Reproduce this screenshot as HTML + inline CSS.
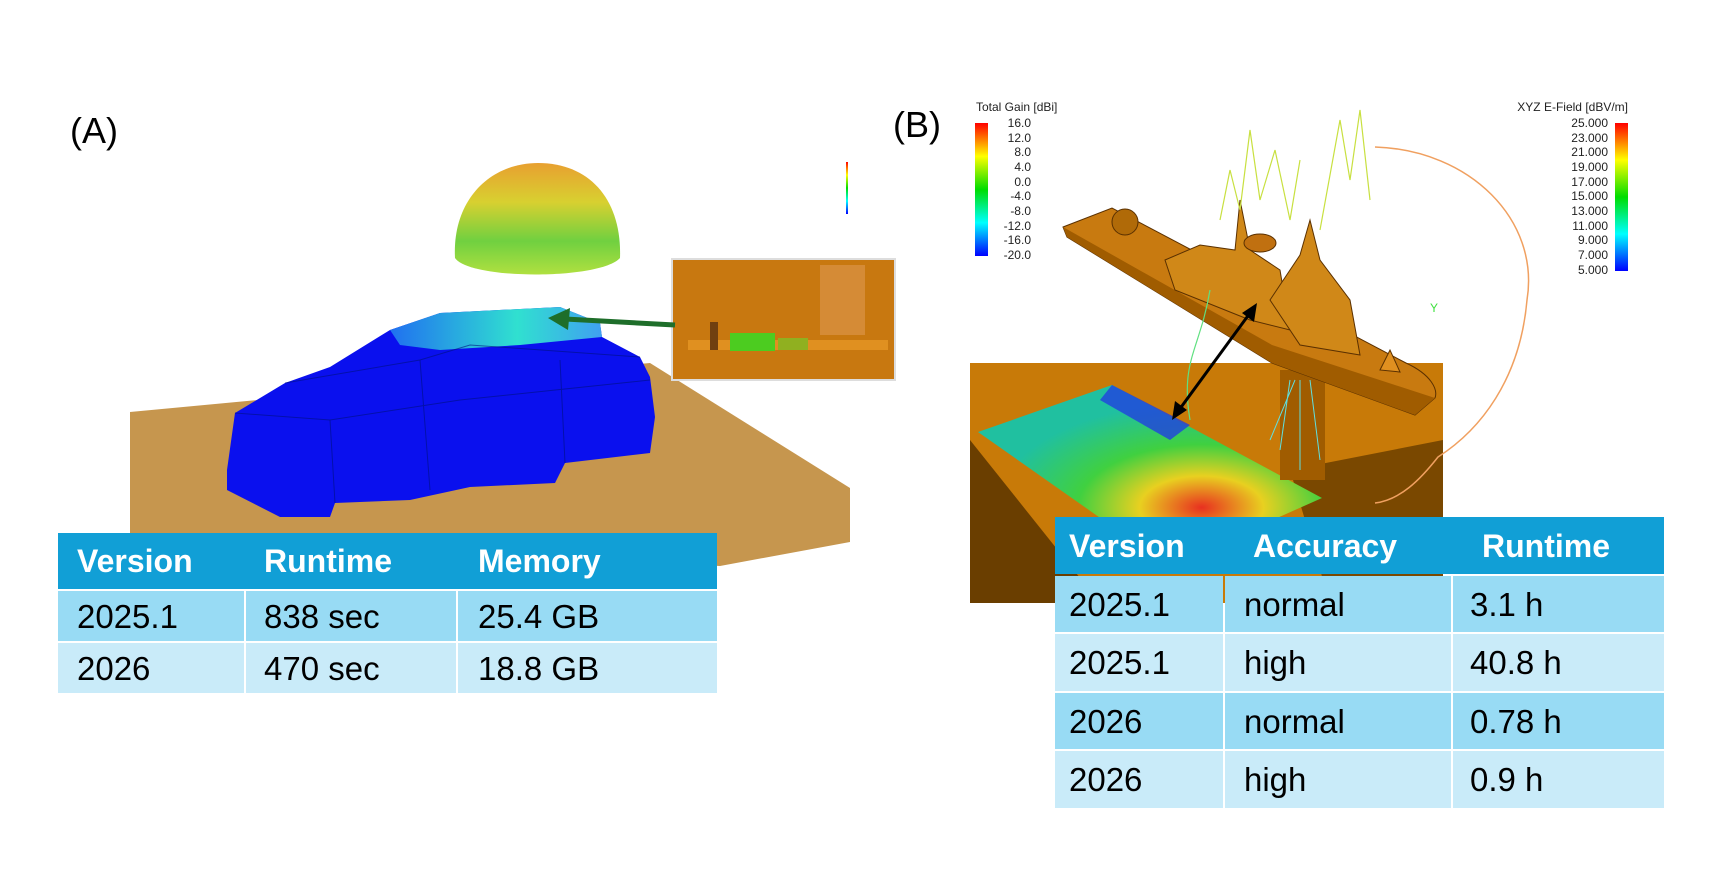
<!DOCTYPE html>
<html><head><meta charset="utf-8"><style>
html,body{margin:0;padding:0;background:#fff;}
#c{position:relative;width:1728px;height:881px;overflow:hidden;font-family:"Liberation Sans",sans-serif;}
.cell{position:absolute;box-sizing:border-box;font-size:33px;line-height:1;display:flex;align-items:center;color:#000;}
.h{color:#fff;font-weight:bold;font-size:32px;}
</style></head><body><div id="c">
<svg width="1728" height="881" viewBox="0 0 1728 881" style="position:absolute;left:0;top:0">
<defs>
<linearGradient id="dome" x1="0" y1="0" x2="0" y2="1"><stop offset="0" stop-color="#e8a030"/><stop offset="0.35" stop-color="#d8d030"/><stop offset="0.7" stop-color="#70d040"/><stop offset="1" stop-color="#b0e040"/></linearGradient>
<linearGradient id="cb" x1="0" y1="0" x2="0" y2="1"><stop offset="0" stop-color="#f00"/><stop offset="0.25" stop-color="#ff0"/><stop offset="0.5" stop-color="#0d0"/><stop offset="0.75" stop-color="#0ff"/><stop offset="1" stop-color="#00f"/></linearGradient>
<radialGradient id="heat" cx="0.65" cy="0.7" r="0.6"><stop offset="0" stop-color="#e83020"/><stop offset="0.3" stop-color="#e8d020"/><stop offset="0.6" stop-color="#40d040"/><stop offset="1" stop-color="#20c0a0"/></radialGradient>
<linearGradient id="roof" x1="0" y1="0" x2="1" y2="0"><stop offset="0" stop-color="#2070f0"/><stop offset="0.6" stop-color="#30e0d0"/><stop offset="1" stop-color="#40a0f0"/></linearGradient>
</defs>
<polygon points="130,412 650,363 850,488 850,542 720,566 130,537" fill="#c6964e"/>
<polygon points="227,470 235,413 285,383 330,367 390,330 440,313 560,307 600,323 602,337 640,357 650,377 655,417 650,453 565,463 555,483 470,487 410,500 335,503 330,517 280,517 227,490" fill="#0a10ee"/>
<polygon points="390,330 440,313 560,307 600,323 602,337 520,345 440,350 400,345" fill="url(#roof)"/>
<g stroke="#001080" stroke-width="1" fill="none" opacity="0.6">
<path d="M285,383 L420,360 L470,345 L640,357"/><path d="M235,413 L330,420 L460,400 L650,380"/><path d="M420,360 L430,490"/><path d="M330,420 L335,503"/><path d="M560,360 L565,463"/>
</g>
<path d="M455,258 C452,200 490,163 538,163 C590,163 622,200 620,258 C600,280 470,280 455,258 Z" fill="url(#dome)"/>
<rect x="846" y="162" width="2" height="52" fill="url(#cb)"/>
<rect x="672" y="259" width="223" height="121" fill="#c87810" stroke="#ddd" stroke-width="2"/>
<rect x="820" y="265" width="45" height="70" fill="#d89040" opacity="0.8"/>
<rect x="688" y="340" width="200" height="10" fill="#e09020"/>
<rect x="730" y="333" width="45" height="18" fill="#4ccc20"/>
<rect x="778" y="338" width="30" height="12" fill="#90b020"/>
<rect x="710" y="322" width="8" height="28" fill="#704010"/>
<line x1="675" y1="325" x2="565" y2="319" stroke="#1e6e2a" stroke-width="5"/>
<polygon points="548,318 570,308 568,330" fill="#1e6e2a"/>
<rect x="970" y="363" width="473" height="240" fill="#c87a08"/>
<polygon points="970,440 1100,603 970,603" fill="#6a3e00"/>
<polygon points="1290,470 1443,440 1443,603 1330,603" fill="#7a4800"/>
<polygon points="978,432 1112,385 1322,498 1250,530 1160,560" fill="url(#heat)"/>
<polygon points="1112,385 1190,425 1170,440 1100,400" fill="#2040e0" opacity="0.8"/>
<rect x="1280" y="370" width="45" height="110" fill="#a05c00"/>
<path d="M1063,227 L1112,208 L1406,363 C1432,375 1438,390 1435,398 L1415,415 L1272,363 L1067,237 Z" fill="#c87a10" stroke="#5a3000" stroke-width="1"/>
<polygon points="1067,237 1063,227 1272,345 1435,398 1415,415 1272,363" fill="#a05c00"/>
<circle cx="1125" cy="222" r="13" fill="#b06a08" stroke="#5a3000"/>
<polygon points="1165,260 1200,245 1235,250 1240,200 1250,250 1280,270 1290,330 1250,320 1175,290" fill="#d08818" stroke="#5a3000"/>
<polygon points="1270,300 1300,255 1310,220 1320,260 1350,300 1360,355 1300,345" fill="#d08818" stroke="#5a3000"/>
<polygon points="1380,370 1390,350 1400,372" fill="#e09020" stroke="#5a3000"/>
<ellipse cx="1260" cy="243" rx="16" ry="9" fill="#c07010" stroke="#5a3000"/>
<path d="M1375,147 C1470,150 1540,220 1527,300 C1520,380 1480,430 1438,457 C1420,480 1400,500 1375,503" fill="none" stroke="#f0a060" stroke-width="1.5"/>
<g stroke="#c8e040" stroke-width="1.2" fill="none">
<path d="M1220,220 L1230,170 L1240,210 L1250,130 L1260,200 L1275,150 L1290,220 L1300,160"/>
<path d="M1320,230 L1340,120 L1350,180 L1360,110 L1370,200"/>
</g>
<g stroke="#60e0e0" stroke-width="1" fill="none"><path d="M1290,380 L1280,450 M1300,380 L1300,470 M1310,380 L1320,460 M1295,380 L1270,440"/></g>
<path d="M1210,290 C1200,350 1180,360 1190,420" stroke="#60e080" stroke-width="1.2" fill="none"/>
<line x1="1250" y1="313" x2="1179" y2="410" stroke="#000" stroke-width="3"/>
<polygon points="1257,303 1254,322 1242,313" fill="#000"/>
<polygon points="1172,420 1175,401 1187,410" fill="#000"/>
<rect x="975" y="123" width="13" height="133" fill="url(#cb)"/>
<rect x="1615" y="123" width="13" height="148" fill="url(#cb)"/>
<g font-family="Liberation Sans,sans-serif" font-size="12" fill="#222">
<text x="976" y="111">Total Gain [dBi]</text>
<text x="1628" y="111" text-anchor="end">XYZ E-Field [dBV/m]</text>
<g text-anchor="end">
<text x="1031" y="127">16.0</text><text x="1031" y="142">12.0</text><text x="1031" y="156">8.0</text><text x="1031" y="171">4.0</text><text x="1031" y="186">0.0</text><text x="1031" y="200">-4.0</text><text x="1031" y="215">-8.0</text><text x="1031" y="230">-12.0</text><text x="1031" y="244">-16.0</text><text x="1031" y="259">-20.0</text>
<text x="1608" y="127">25.000</text><text x="1608" y="142">23.000</text><text x="1608" y="156">21.000</text><text x="1608" y="171">19.000</text><text x="1608" y="186">17.000</text><text x="1608" y="200">15.000</text><text x="1608" y="215">13.000</text><text x="1608" y="230">11.000</text><text x="1608" y="244">9.000</text><text x="1608" y="259">7.000</text><text x="1608" y="274">5.000</text>
</g>
<text x="1430" y="312" fill="#40e040">Y</text>
</g>
<text x="70" y="143" font-family="Liberation Sans,sans-serif" font-size="36" fill="#000">(A)</text>
<text x="893" y="137" font-family="Liberation Sans,sans-serif" font-size="36" fill="#000">(B)</text>
</svg>

<div style="position:absolute;left:58px;top:533px;width:659px;height:56px;background:#119fd6"></div>
<div style="position:absolute;left:58px;top:591px;width:186px;height:50px;background:#98dbf4"></div>
<div style="position:absolute;left:246px;top:591px;width:210px;height:50px;background:#98dbf4"></div>
<div style="position:absolute;left:458px;top:591px;width:259px;height:50px;background:#98dbf4"></div>
<div style="position:absolute;left:58px;top:643px;width:186px;height:50px;background:#c9ebf9"></div>
<div style="position:absolute;left:246px;top:643px;width:210px;height:50px;background:#c9ebf9"></div>
<div style="position:absolute;left:458px;top:643px;width:259px;height:50px;background:#c9ebf9"></div>
<div class="cell h" style="left:77px;top:533px;height:56px">Version</div>
<div class="cell h" style="left:264px;top:533px;height:56px">Runtime</div>
<div class="cell h" style="left:478px;top:533px;height:56px">Memory</div>
<div class="cell" style="left:77px;top:591px;height:50px">2025.1</div>
<div class="cell" style="left:264px;top:591px;height:50px">838 sec</div>
<div class="cell" style="left:478px;top:591px;height:50px">25.4 GB</div>
<div class="cell" style="left:77px;top:643px;height:50px">2026</div>
<div class="cell" style="left:264px;top:643px;height:50px">470 sec</div>
<div class="cell" style="left:478px;top:643px;height:50px">18.8 GB</div>

<div style="position:absolute;left:1055px;top:517px;width:609px;height:57px;background:#119fd6"></div>
<div style="position:absolute;left:1055px;top:576px;width:168px;height:56px;background:#98dbf4"></div>
<div style="position:absolute;left:1225px;top:576px;width:226px;height:56px;background:#98dbf4"></div>
<div style="position:absolute;left:1453px;top:576px;width:211px;height:56px;background:#98dbf4"></div>
<div style="position:absolute;left:1055px;top:634px;width:168px;height:57px;background:#c9ebf9"></div>
<div style="position:absolute;left:1225px;top:634px;width:226px;height:57px;background:#c9ebf9"></div>
<div style="position:absolute;left:1453px;top:634px;width:211px;height:57px;background:#c9ebf9"></div>
<div style="position:absolute;left:1055px;top:693px;width:168px;height:56px;background:#98dbf4"></div>
<div style="position:absolute;left:1225px;top:693px;width:226px;height:56px;background:#98dbf4"></div>
<div style="position:absolute;left:1453px;top:693px;width:211px;height:56px;background:#98dbf4"></div>
<div style="position:absolute;left:1055px;top:751px;width:168px;height:57px;background:#c9ebf9"></div>
<div style="position:absolute;left:1225px;top:751px;width:226px;height:57px;background:#c9ebf9"></div>
<div style="position:absolute;left:1453px;top:751px;width:211px;height:57px;background:#c9ebf9"></div>
<div class="cell h" style="left:1069px;top:517px;height:57px">Version</div>
<div class="cell h" style="left:1253px;top:517px;height:57px">Accuracy</div>
<div class="cell h" style="left:1482px;top:517px;height:57px">Runtime</div>
<div class="cell" style="left:1069px;top:576px;height:56px">2025.1</div>
<div class="cell" style="left:1244px;top:576px;height:56px">normal</div>
<div class="cell" style="left:1470px;top:576px;height:56px">3.1 h</div>
<div class="cell" style="left:1069px;top:634px;height:57px">2025.1</div>
<div class="cell" style="left:1244px;top:634px;height:57px">high</div>
<div class="cell" style="left:1470px;top:634px;height:57px">40.8 h</div>
<div class="cell" style="left:1069px;top:693px;height:56px">2026</div>
<div class="cell" style="left:1244px;top:693px;height:56px">normal</div>
<div class="cell" style="left:1470px;top:693px;height:56px">0.78 h</div>
<div class="cell" style="left:1069px;top:751px;height:57px">2026</div>
<div class="cell" style="left:1244px;top:751px;height:57px">high</div>
<div class="cell" style="left:1470px;top:751px;height:57px">0.9 h</div>
</div></body></html>
